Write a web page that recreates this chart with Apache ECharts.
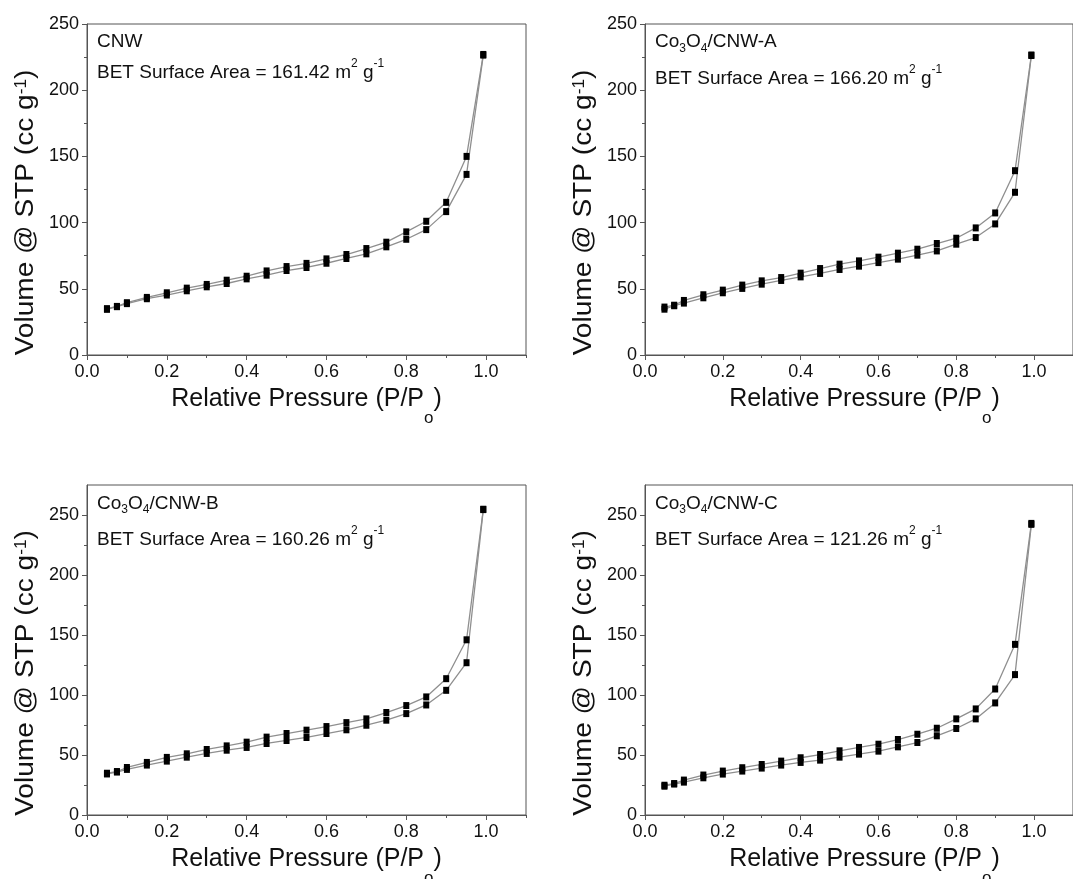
<!DOCTYPE html>
<html>
<head>
<meta charset="utf-8">
<script src="https://cdn.jsdelivr.net/npm/echarts@6/dist/echarts.min.js"></script>
<style>
  html, body { margin: 0; padding: 0; background: #fff; }
  #chart { width: 1073px; height: 879px; }
</style>
</head>
<body>
<div id="chart"></div>
<script>
// ---------------- DATA ----------------
const relPressure = [0.05, 0.075, 0.1, 0.15, 0.2, 0.25, 0.3, 0.35, 0.4, 0.45, 0.5, 0.55, 0.6, 0.65, 0.7, 0.75, 0.8, 0.85, 0.9, 0.951, 0.993];

const sampleNames = ['CNW', 'Co3O4/CNW-A', 'Co3O4/CNW-B', 'Co3O4/CNW-C'];
const betAreas = ['161.42', '166.20', '160.26', '121.26'];

// desorption (upper branch) / adsorption (lower branch), cc g-1
const cnwDes = [35, 36.7, 39.5, 43.5, 47, 50.5, 53.3, 56.5, 59.5, 63.5, 66.8, 69.2, 72.6, 75.9, 80.4, 85.2, 93, 101, 115.3, 150, 227];
const cnwAds = [34.5, 36.5, 38.8, 42.5, 45.3, 48.5, 51.5, 54, 57.5, 60.3, 63.8, 66.1, 69.3, 72.9, 76.4, 81.7, 87.4, 94.7, 108.3, 136.4, 226.5];

const cnwADes = [36.2, 37.6, 41.2, 45.5, 49, 52.8, 56, 58.5, 61.8, 65.3, 68.6, 71.1, 73.9, 76.9, 79.9, 84.2, 88.2, 96, 107.3, 139.2, 226.6];
const cnwAAds = [34.6, 37.2, 39.2, 43.2, 47, 50.3, 53.5, 56.3, 59, 61.6, 64.6, 67.1, 69.8, 72.4, 75.4, 78.6, 83.7, 88.7, 99, 122.9, 226.2];

const cnwBDes = [34.8, 36.2, 39.6, 43.8, 48, 51, 54.6, 57.6, 60.7, 64.9, 67.9, 70.7, 73.7, 77, 80.1, 85.4, 91.2, 98.4, 113.6, 146, 254.8];
const cnwBAds = [34.2, 35.8, 38, 41.6, 44.9, 48.2, 51.3, 54, 56.3, 59.6, 62.1, 64.6, 67.9, 71, 74.8, 79, 84.5, 91.7, 103.9, 126.9, 254.5];

const cnwCDes = [24.8, 26.2, 29.1, 33.3, 36.6, 39.4, 42.1, 44.9, 47.7, 50.4, 53.5, 56.3, 59, 62.9, 67.3, 72.3, 80.1, 88.4, 105, 142.2, 243];
const cnwCAds = [24, 25.8, 27.4, 31, 34.1, 36.6, 39.1, 41.6, 43.8, 45.7, 48.2, 50.7, 53.2, 56.8, 60.4, 66, 72.1, 80.1, 93.4, 117, 242.2];

const xMajorTicks = [0, 0.2, 0.4, 0.6, 0.8, 1.0];
const xMinorTicks = [0.1, 0.3, 0.5, 0.7, 0.9, 1.1];
const yMajorTicks = [0, 50, 100, 150, 200, 250];
const yMinorTicks = [25, 75, 125, 175, 225];
const yMaxes = [250, 250, 275, 275];

const xTitle = '{n|Relative Pressure (P/P}{sub|o}{n|)}';
const yTitle = '{n|Volume @ STP (cc g}{sup|-1}{n|)}';

// ---------------- LAYOUT ----------------
const FONT = "'Liberation Sans', Arial, Helvetica, sans-serif";
const AXIS_COLOR = '#555';
const TEXT_COLOR = '#111';
const grids = [
  { left: 87, top: 24, width: 439, height: 331 },
  { left: 645, top: 24, width: 439, height: 331 },
  { left: 87, top: 485, width: 439, height: 330 },
  { left: 645, top: 485, width: 439, height: 330 }
];
const labelDy = [17.7, 17.7, 18.5, 18.5];
const betDy = [48.5, 54.4, 55, 55];

const branches = [[cnwDes, cnwAds], [cnwADes, cnwAAds], [cnwBDes, cnwBAds], [cnwCDes, cnwCAds]];

function rich(fs, smallFs, supUp, subDown) {
  return {
    n: { fontSize: fs, fontFamily: FONT, fill: TEXT_COLOR, color: TEXT_COLOR },
    sup: { fontSize: smallFs, fontFamily: FONT, fill: TEXT_COLOR, color: TEXT_COLOR, padding: [0, 0, 2 * supUp, 0] },
    sub: { fontSize: smallFs, fontFamily: FONT, fill: TEXT_COLOR, color: TEXT_COLOR, padding: [2 * subDown, 0, 0, 0] }
  };
}
function chem(s) {
  return '{n|' + s.replace(/([A-Za-z])(\d)/g, '$1}{sub|$2}{n|') + '}';
}

const xAxes = [], yAxes = [], series = [], graphics = [];
grids.forEach((g, i) => {
  const baseX = {
    gridIndex: i, type: 'value', min: 0, max: 1.1, position: 'bottom',
    splitLine: { show: false }
  };
  xAxes.push(Object.assign({}, baseX, {
    axisLine: { show: true, onZero: false, lineStyle: { color: AXIS_COLOR, width: 1 } },
    axisTick: { show: true, customValues: xMajorTicks, length: 5, lineStyle: { color: AXIS_COLOR } },
    axisLabel: { customValues: xMajorTicks, formatter: v => v.toFixed(1), fontSize: 18, fontFamily: FONT, color: TEXT_COLOR, margin: 8 }
  }));
  xAxes.push(Object.assign({}, baseX, {
    axisLine: { show: false, onZero: false },
    axisTick: { show: true, customValues: xMinorTicks, length: 3, lineStyle: { color: AXIS_COLOR } },
    axisLabel: { show: false }
  }));
  const baseY = {
    gridIndex: i, type: 'value', min: 0, max: yMaxes[i], position: 'left',
    splitLine: { show: false }
  };
  yAxes.push(Object.assign({}, baseY, {
    axisLine: { show: true, onZero: false, lineStyle: { color: AXIS_COLOR, width: 1 } },
    axisTick: { show: true, customValues: yMajorTicks, length: 5, lineStyle: { color: AXIS_COLOR } },
    axisLabel: { customValues: yMajorTicks, formatter: v => String(v), fontSize: 18, fontFamily: FONT, color: TEXT_COLOR, margin: 8 }
  }));
  yAxes.push(Object.assign({}, baseY, {
    axisLine: { show: false, onZero: false },
    axisTick: { show: true, customValues: yMinorTicks, length: 3, lineStyle: { color: AXIS_COLOR } },
    axisLabel: { show: false }
  }));

  branches[i].forEach((arr, b) => {
    series.push({
      type: 'line',
      name: b === 0 ? 'desorption' : 'adsorption',
      xAxisIndex: 2 * i, yAxisIndex: 2 * i,
      data: relPressure.map((p, k) => [p, arr[k]]),
      symbol: 'rect', symbolSize: [6, 7],
      itemStyle: { color: '#000' },
      lineStyle: { color: '#8f8f8f', width: 1.3 },
      z: 3, silent: true
    });
  });

  // sample label
  graphics.push({
    type: 'text', x: g.left + 10, y: g.top + labelDy[i],
    style: { text: chem(sampleNames[i]), rich: rich(19, 12, 9, 6.5), align: 'left', verticalAlign: 'middle' }
  });
  graphics.push({
    type: 'text', x: g.left + 10, y: g.top + betDy[i],
    style: { text: '{n|BET Surface Area = ' + betAreas[i] + ' m}{sup|2}{n| g}{sup|-1}', rich: rich(19, 12, 9, 6.5), align: 'left', verticalAlign: 'middle' }
  });
  // x title
  graphics.push({
    type: 'text', x: g.left + g.width / 2, y: g.top + g.height + 44.5,
    style: { text: xTitle, rich: rich(25, 17, 0, 18.5), align: 'center', verticalAlign: 'middle' }
  });
  // y title
  graphics.push({
    type: 'text', x: g.left - 61, y: g.top + g.height / 2 + 23,
    rotation: Math.PI / 2, scaleX: 1.08,
    style: { text: yTitle, rich: rich(26, 16, 4.5, 0), align: 'center', verticalAlign: 'middle' }
  });
});

const chart = echarts.init(document.getElementById('chart'), null, { renderer: 'canvas' });
chart.setOption({
  animation: false,
  backgroundColor: '#fff',
  grid: grids.map(g => Object.assign({ show: true, borderColor: AXIS_COLOR, borderWidth: 1, backgroundColor: 'transparent' }, g)),
  xAxis: xAxes,
  yAxis: yAxes,
  series: series,
  graphic: graphics
});
</script>
</body>
</html>
